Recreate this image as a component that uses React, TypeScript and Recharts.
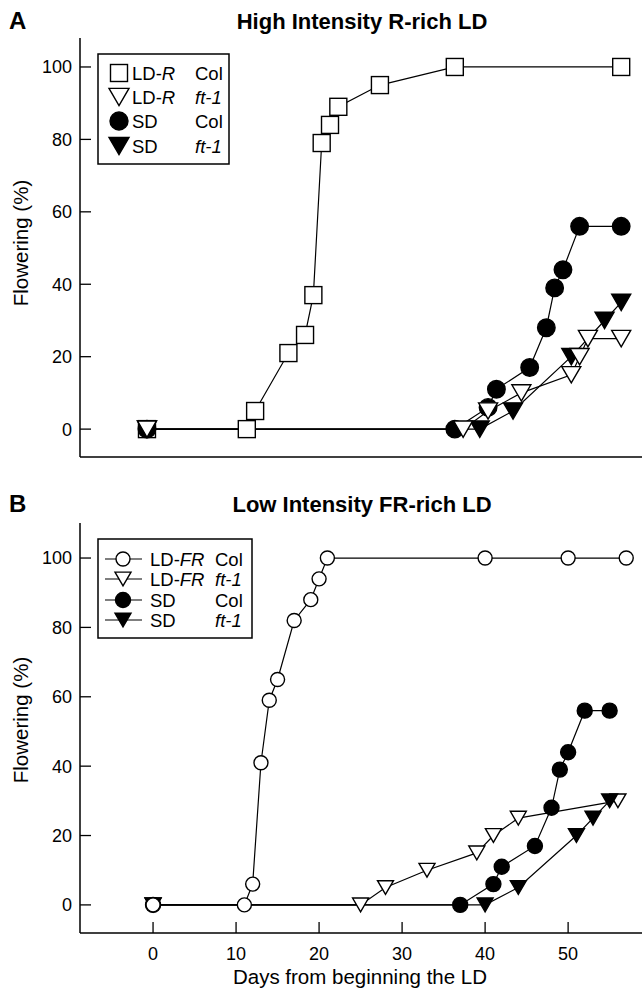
import React from "react";
import { LineChart, Line, XAxis, YAxis } from "recharts";

const font = '"Liberation Sans", Arial, Helvetica, sans-serif';

// ticks
const dayTicks = [0, 10, 20, 30, 40, 50];
const pctTicks = [0, 20, 40, 60, 80, 100];

// A: High Intensity R-rich LD
const aLdColDays = [0, 12, 13, 17, 19, 20, 21, 22, 23, 28, 37, 57];
const aLdColPct = [0, 0, 5, 21, 26, 37, 79, 84, 89, 95, 100, 100];
const aLdFtDays = [0, 38, 41, 45, 51, 52, 53, 57];
const aLdFtPct = [0, 0, 5, 10, 15, 20, 25, 25];
const aSdColDays = [0, 37, 41, 42, 46, 48, 49, 50, 52, 57];
const aSdColPct = [0, 0, 6, 11, 17, 28, 39, 44, 56, 56];
const aSdFtDays = [0, 40, 44, 51, 55, 57];
const aSdFtPct = [0, 0, 5, 20, 30, 35];

// B: Low Intensity FR-rich LD
const bLdColDays = [0, 11, 12, 13, 14, 15, 17, 19, 20, 21, 40, 50, 57];
const bLdColPct = [0, 0, 6, 41, 59, 65, 82, 88, 94, 100, 100, 100, 100];
const bLdFtDays = [0, 25, 28, 33, 39, 41, 44, 56];
const bLdFtPct = [0, 0, 5, 10, 15, 20, 25, 30];
const bSdColDays = [0, 37, 41, 42, 46, 48, 49, 50, 52, 55];
const bSdColPct = [0, 0, 6, 11, 17, 28, 39, 44, 56, 56];
const bSdFtDays = [0, 40, 44, 51, 53, 55];
const bSdFtPct = [0, 0, 5, 20, 25, 30];

type Shape = "square" | "circle" | "tri";

type Series = {
  id: string;
  days: number[];
  pct: number[];
  shape: Shape;
  filled: boolean;
  size: number;
};

const toPoints = (days: number[], pct: number[]) =>
  days.map((d, i) => ({ x: d, y: pct[i] }));

function Marker({ shape, filled, size, cx, cy }: { shape: Shape; filled: boolean; size: number; cx: number; cy: number }) {
  const common = { fill: filled ? "#000" : "#fff", stroke: "#000", strokeWidth: 1.4 };
  if (shape === "square")
    return <rect x={cx - size / 2} y={cy - size / 2} width={size} height={size} {...common} />;
  if (shape === "circle") return <circle cx={cx} cy={cy} r={size / 2} {...common} />;
  const h = size * 0.86;
  return (
    <polygon
      points={`${cx - size / 2},${cy - h / 2} ${cx + size / 2},${cy - h / 2} ${cx},${cy + h / 2}`}
      {...common}
    />
  );
}

// draw order = array order (later on top)
const seriesA: Series[] = [
  { id: "aLdCol", days: aLdColDays, pct: aLdColPct, shape: "square", filled: false, size: 17 },
  { id: "aSdFt", days: aSdFtDays, pct: aSdFtPct, shape: "tri", filled: true, size: 19 },
  { id: "aSdCol", days: aSdColDays, pct: aSdColPct, shape: "circle", filled: true, size: 17.5 },
  { id: "aLdFt", days: aLdFtDays, pct: aLdFtPct, shape: "tri", filled: false, size: 19 },
];

const seriesB: Series[] = [
  { id: "bLdFt", days: bLdFtDays, pct: bLdFtPct, shape: "tri", filled: false, size: 16 },
  { id: "bSdFt", days: bSdFtDays, pct: bSdFtPct, shape: "tri", filled: true, size: 16 },
  { id: "bSdCol", days: bSdColDays, pct: bSdColPct, shape: "circle", filled: true, size: 15 },
  { id: "bLdCol", days: bLdColDays, pct: bLdColPct, shape: "circle", filled: false, size: 14 },
];

const axisStyle = { stroke: "#000", strokeWidth: 1.5 };
const tickStyle = { fontSize: 18, fill: "#000", fontFamily: font };

function Panel(props: {
  top: number;
  height: number;
  marginTop: number;
  xAxisHeight: number;
  xDomain: [number, number];
  yDomain: [number, number];
  series: Series[];
  showXLabels: boolean;
}) {
  const { top, height, marginTop, xAxisHeight, xDomain, yDomain, series, showXLabels } = props;
  return (
    <div style={{ position: "absolute", left: 0, top }}>
      <LineChart width={642} height={height} margin={{ top: marginTop, right: 0, bottom: 0, left: 0 }}>
        <XAxis
          dataKey="x"
          type="number"
          domain={xDomain}
          ticks={dayTicks}
          allowDataOverflow
          height={xAxisHeight}
          tickSize={-11}
          tickMargin={25}
          tick={showXLabels ? tickStyle : false}
          axisLine={axisStyle}
          tickLine={{ stroke: "#000", strokeWidth: 1.3 }}
        />
        <XAxis
          xAxisId="top"
          orientation="top"
          type="number"
          domain={xDomain}
          ticks={[]}
          height={0}
          tick={false}
          tickLine={false}
          axisLine={axisStyle}
        />
        <YAxis
          type="number"
          domain={yDomain}
          ticks={pctTicks}
          allowDataOverflow
          width={80}
          tickSize={-11}
          tickMargin={19}
          tick={tickStyle}
          axisLine={axisStyle}
          tickLine={{ stroke: "#000", strokeWidth: 1.3 }}
        />
        {series.map((s) => (
          <Line
            key={s.id}
            data={toPoints(s.days, s.pct)}
            dataKey="y"
            stroke="#000"
            strokeWidth={1.2}
            isAnimationActive={false}
            activeDot={false}
            dot={(p: any) => (
              <Marker key={`${s.id}-${p.index}`} shape={s.shape} filled={s.filled} size={s.size} cx={p.cx} cy={p.cy} />
            )}
          />
        ))}
      </LineChart>
    </div>
  );
}

function LegendA() {
  const rows = [
    { shape: "square" as Shape, filled: false, size: 17, a: "LD-", it: "R", b: "Col", bi: false },
    { shape: "tri" as Shape, filled: false, size: 20, a: "LD-", it: "R", b: "ft-1", bi: true },
    { shape: "circle" as Shape, filled: true, size: 18, a: "SD", it: "", b: "Col", bi: false },
    { shape: "tri" as Shape, filled: true, size: 20, a: "SD", it: "", b: "ft-1", bi: true },
  ];
  const ys = [73, 97, 121, 146];
  return (
    <g>
      <rect x={98} y={54} width={131} height={110} fill="#fff" stroke="#000" strokeWidth={1.5} />
      {rows.map((r, i) => (
        <g key={i}>
          <Marker shape={r.shape} filled={r.filled} size={r.size} cx={119} cy={ys[i]} />
          <text x={132} y={ys[i] + 6.5} fontSize={18.5}>
            {r.a}
            {r.it && <tspan fontStyle="italic">{r.it}</tspan>}
          </text>
          <text x={195} y={ys[i] + 6.5} fontSize={18.5} fontStyle={r.bi ? "italic" : "normal"}>
            {r.b}
          </text>
        </g>
      ))}
    </g>
  );
}

function LegendB() {
  const rows = [
    { shape: "circle" as Shape, filled: false, size: 14, a: "LD-", it: "FR", b: "Col", bi: false },
    { shape: "tri" as Shape, filled: false, size: 16, a: "LD-", it: "FR", b: "ft-1", bi: true },
    { shape: "circle" as Shape, filled: true, size: 15, a: "SD", it: "", b: "Col", bi: false },
    { shape: "tri" as Shape, filled: true, size: 16, a: "SD", it: "", b: "ft-1", bi: true },
  ];
  const ys = [559, 579, 600, 620];
  return (
    <g>
      <rect x={98} y={539} width={154} height={99} fill="#fff" stroke="#000" strokeWidth={1.5} />
      {rows.map((r, i) => (
        <g key={i}>
          <line x1={105} x2={142} y1={ys[i]} y2={ys[i]} stroke="#000" strokeWidth={1.2} />
          <Marker shape={r.shape} filled={r.filled} size={r.size} cx={123} cy={ys[i]} />
          <text x={150} y={ys[i] + 6.5} fontSize={18.5}>
            {r.a}
            {r.it && <tspan fontStyle="italic">{r.it}</tspan>}
          </text>
          <text x={215} y={ys[i] + 6.5} fontSize={18.5} fontStyle={r.bi ? "italic" : "normal"}>
            {r.b}
          </text>
        </g>
      ))}
    </g>
  );
}

export default function App() {
  return (
    <div style={{ position: "absolute", left: 0, top: 0, width: 642, height: 988, background: "#fff", fontFamily: font }}>
      <Panel
        top={0}
        height={470}
        marginTop={38}
        xAxisHeight={13}
        xDomain={[-8.05, 59.5]}
        yDomain={[-7.7, 108]}
        series={seriesA}
        showXLabels={false}
      />
      <Panel
        top={485}
        height={503}
        marginTop={38}
        xAxisHeight={55}
        xDomain={[-8.8, 58.9]}
        yDomain={[-8.1, 110.1]}
        series={seriesB}
        showXLabels={true}
      />
      <svg
        width={642}
        height={988}
        style={{ position: "absolute", left: 0, top: 0, pointerEvents: "none", fontFamily: font }}
      >
        <text x={9} y={29} fontSize={24} fontWeight="bold">A</text>
        <text x={362} y={29} fontSize={22} fontWeight="bold" textAnchor="middle">
          High Intensity R-rich LD
        </text>
        <text x={9} y={512} fontSize={24} fontWeight="bold">B</text>
        <text x={362} y={512} fontSize={22} fontWeight="bold" textAnchor="middle">
          Low Intensity FR-rich LD
        </text>
        <text x={20} y={243} fontSize={20.5} textAnchor="middle" dominantBaseline="central" transform="rotate(-90 20 243)">
          Flowering (%)
        </text>
        <text x={20} y={720} fontSize={20.5} textAnchor="middle" dominantBaseline="central" transform="rotate(-90 20 720)">
          Flowering (%)
        </text>
        <text x={360} y={984} fontSize={20.5} textAnchor="middle">
          Days from beginning the LD
        </text>
        <LegendA />
        <LegendB />
      </svg>
    </div>
  );
}
